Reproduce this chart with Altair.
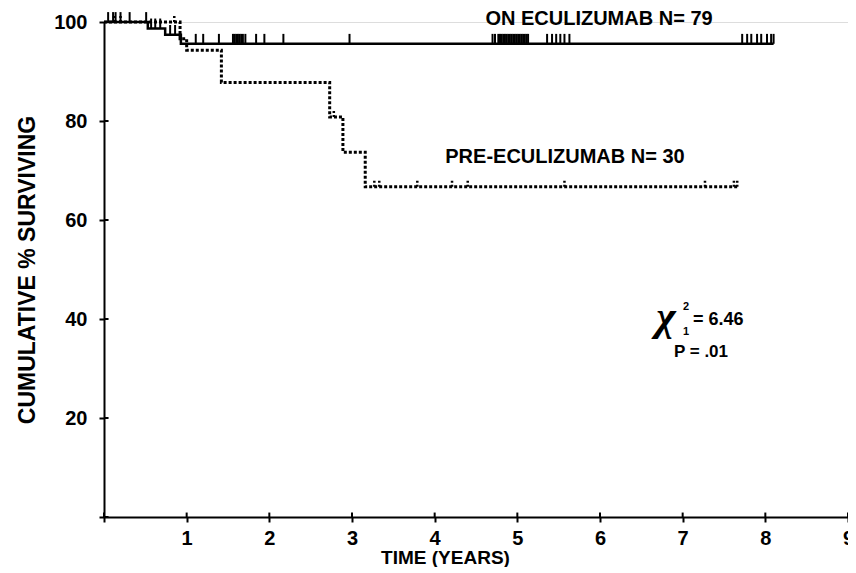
import altair as alt
import pandas as pd

# ---- data ----
on_t = [0, 0.53, 0.74, 0.93, 8.10]
on_s = [100, 98.7, 97.4, 95.6, 95.6]
pre_t = [0, 0.92, 1.00, 1.42, 2.73, 2.89, 3.16, 7.66]
pre_s = [100, 96.6, 94.3, 87.8, 80.8, 73.7, 66.7, 66.7]

on_cens_t = [0.05, 0.11, 0.14, 0.20, 0.31, 0.51,
             0.57, 0.62, 0.68,
             0.80, 0.86,
             1.11, 1.20, 1.39, 1.56, 1.58, 1.60, 1.62, 1.64, 1.66, 1.68, 1.71,
             1.84, 1.94, 2.17, 2.97,
             4.70, 4.73, 4.77, 4.79, 4.81, 4.83, 4.85, 4.87, 4.89, 4.91, 4.93,
             4.95, 4.97, 4.99, 5.01, 5.03, 5.05, 5.07, 5.09, 5.11, 5.13,
             5.36, 5.42, 5.47, 5.52, 5.57, 5.63,
             7.72, 7.78, 7.83, 7.90, 7.95, 8.02, 8.07, 8.10]
on_cens_s = [100] * 6 + [98.7] * 3 + [97.4] * 2 + [95.6] * 50

pre_cens_t = [0.12, 0.20, 0.85, 2.78, 3.27, 3.33, 3.79, 4.21, 4.40, 5.57, 7.27, 7.62, 7.66]
pre_cens_s = [100, 100, 100, 80.8, 66.7, 66.7, 66.7, 66.7, 66.7, 66.7, 66.7, 66.7, 66.7]

x_ticks = [0, 1, 2, 3, 4, 5, 6, 7, 8, 9]
y_ticks = [0, 20, 40, 60, 80, 100]

FONT = "Liberation Sans"

on_df = pd.DataFrame({"t": on_t, "s": on_s})
pre_df = pd.DataFrame({"t": pre_t, "s": pre_s})
onc_df = pd.DataFrame({"t": on_cens_t, "s": on_cens_s})
prec_df = pd.DataFrame({"t": pre_cens_t, "s": pre_cens_s})
xt_df = pd.DataFrame({"t": x_ticks})
yt_df = pd.DataFrame({"v": y_ticks})

xscale = alt.Scale(domain=[0, 9], nice=False)
yscale = alt.Scale(domain=[0, 100], nice=False)

xaxis = alt.Axis(
    values=x_ticks, format="d", labelExpr="datum.value == 0 ? '' : datum.label",
    title="TIME (YEARS)", grid=False, domainColor="black", domainWidth=2,
    tickColor="black", tickWidth=2, tickSize=5, labelPadding=6, labelFlush=False,
    labelFont=FONT, labelFontSize=20, labelFontWeight="bold", labelColor="black",
    titleFont=FONT, titleFontSize=19, titleFontWeight="bold", titleColor="black",
    titleX=341, titleY=40, titleBaseline="middle", titleAlign="center",
)
yaxis = alt.Axis(
    values=y_ticks, format="d", labelExpr="datum.value == 0 ? '' : datum.label",
    title="CUMULATIVE % SURVIVING", grid=False, domainColor="black", domainWidth=2,
    tickColor="black", tickWidth=2, tickSize=5, labelPadding=12,
    labelFont=FONT, labelFontSize=20, labelFontWeight="bold", labelColor="black",
    titleFont=FONT, titleFontSize=23, titleFontWeight="bold", titleColor="black",
    titleX=-77, titleY=247.5, titleBaseline="middle", titleAlign="center",
)

base_on = alt.Chart(on_df).mark_line(
    interpolate="step-after", color="black", strokeWidth=2.5
).encode(
    x=alt.X("t:Q", scale=xscale, axis=xaxis),
    y=alt.Y("s:Q", scale=yscale, axis=yaxis),
)

pre_line = alt.Chart(pre_df).mark_line(
    interpolate="step-after", color="black", strokeWidth=3, strokeDash=[3, 2]
).encode(
    x=alt.X("t:Q", scale=xscale),
    y=alt.Y("s:Q", scale=yscale),
)

on_cens = alt.Chart(onc_df).transform_calculate(s2="datum.s + 2.0").mark_rule(
    color="black", strokeWidth=2
).encode(
    x=alt.X("t:Q", scale=xscale),
    y=alt.Y("s:Q", scale=yscale),
    y2="s2:Q",
)

pre_cens = alt.Chart(prec_df).transform_calculate(s2="datum.s + 1.5").mark_rule(
    color="black", strokeWidth=2.5, strokeDash=[2, 2]
).encode(
    x=alt.X("t:Q", scale=xscale),
    y=alt.Y("s:Q", scale=yscale),
    y2="s2:Q",
)

# inner halves of the axis ticks (ticks cross the axis line)
x_in = alt.Chart(xt_df).transform_calculate(y0="0", y1="0.9").mark_rule(
    color="black", strokeWidth=2
).encode(
    x=alt.X("t:Q", scale=xscale),
    y=alt.Y("y0:Q", scale=yscale),
    y2="y1:Q",
)
y_in = alt.Chart(yt_df).transform_calculate(x0="0", x1="0.055").mark_rule(
    color="black", strokeWidth=2
).encode(
    y=alt.Y("v:Q", scale=yscale),
    x=alt.X("x0:Q", scale=xscale),
    x2="x1:Q",
)

def label(text, x, y, size, align="center", font=FONT, style="normal", weight="bold"):
    return alt.Chart(pd.DataFrame({"a": [0]})).mark_text(
        text=text, font=font, fontSize=size, fontWeight=weight, fontStyle=style,
        align=align, baseline="middle", color="black"
    ).encode(x=alt.value(x), y=alt.value(y))

texts = (
    label("ON ECULIZUMAB N= 79", 495, -3, 20)
    + label("PRE-ECULIZUMAB N= 30", 461, 135, 20)
    + label("χ", 562, 295, 42, font="Liberation Serif", style="italic", weight="bold")
    + label("2", 582, 285, 11)
    + label("1", 582, 310, 11)
    + label("= 6.46", 589, 298, 18, align="left")
    + label("P = .01", 597, 330, 17)
)

chart = alt.layer(
    x_in, y_in, pre_line, base_on, on_cens, pre_cens, texts
).properties(
    width=744, height=495,
    padding={"left": 96, "top": 14, "right": 0, "bottom": 50},
    autosize=alt.AutoSizeParams(type="none"),
).configure_view(stroke=None).configure(background="white")

chart.save("out.html", embed_options={"renderer": "svg", "actions": False})
